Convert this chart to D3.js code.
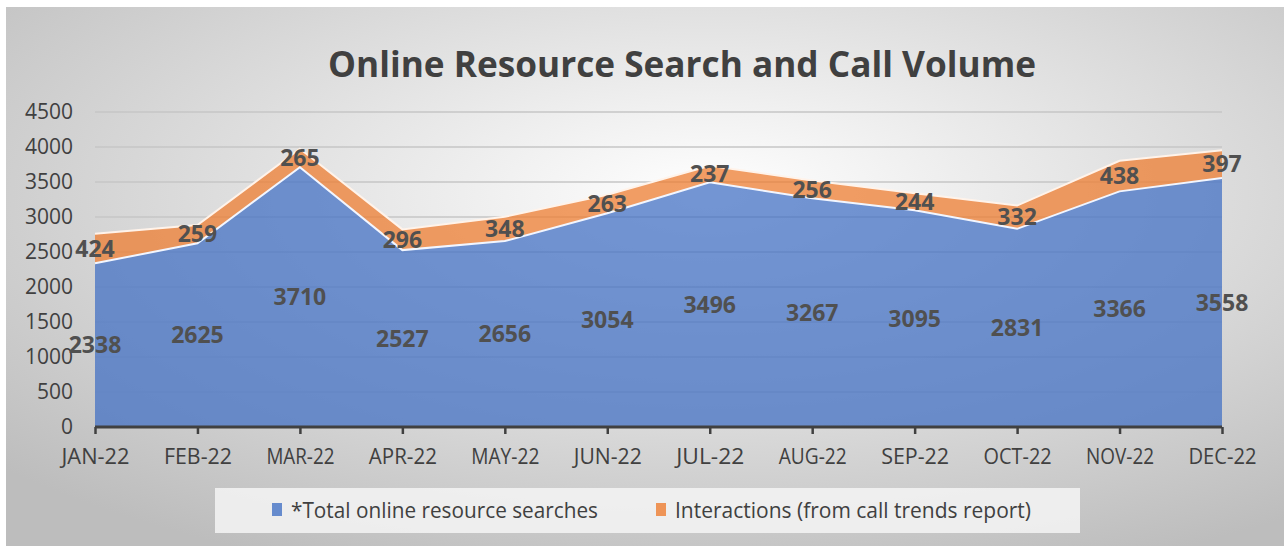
<!DOCTYPE html>
<html>
<head>
<meta charset="utf-8">
<script src="https://cdn.jsdelivr.net/npm/d3@7"></script>
<style>
  body { margin: 0; background: #fff; }
  svg { display: block; font-family: "Open Sans", sans-serif; }
</style>
</head>
<body>
<div id="chart"></div>
<script>
// data
var months = ["JAN-22", "FEB-22", "MAR-22", "APR-22", "MAY-22", "JUN-22",
  "JUL-22", "AUG-22", "SEP-22", "OCT-22", "NOV-22", "DEC-22"];
var searches = [2338, 2625, 3710, 2527, 2656, 3054, 3496, 3267, 3095, 2831, 3366, 3558];
var interactions = [424, 259, 265, 296, 348, 263, 237, 256, 244, 332, 438, 397];
var yTicks = [0, 500, 1000, 1500, 2000, 2500, 3000, 3500, 4000, 4500];
var seriesNames = ["*Total online resource searches", "Interactions (from call trends report)"];

// styles
var width = 1284, height = 546;
var blue = "#4472C4", orange = "#ED7D31";
var textColor = "#404040", labelColor = "#505050";

var svg = d3.select("#chart").append("svg")
  .attr("width", width)
  .attr("height", height);

var defs = svg.append("defs");
var grad = defs.append("radialGradient")
  .attr("id", "bg")
  .attr("cx", "55%").attr("cy", "35%").attr("r", "75%");
grad.append("stop").attr("offset", "0%").attr("stop-color", "#ffffff");
grad.append("stop").attr("offset", "100%").attr("stop-color", "#bdbdbd");

svg.append("rect")
  .attr("x", 6).attr("y", 7)
  .attr("width", width - 6).attr("height", height - 7)
  .attr("fill", "url(#bg)");

var x = d3.scalePoint().domain(months).range([95, 1222]);
var y = d3.scaleLinear().domain([0, 4500]).range([427, 112]);

// gridlines
svg.append("g").selectAll("line")
  .data(yTicks.slice(1))
  .join("line")
  .attr("x1", 95).attr("x2", 1222)
  .attr("y1", function (d) { return y(d); })
  .attr("y2", function (d) { return y(d); })
  .attr("stroke", "#c6c6c6")
  .attr("stroke-width", 1.5);

var rows = months.map(function (m, i) {
  return { m: m, a: searches[i], b: interactions[i] };
});

var areaBlue = d3.area()
  .x(function (d) { return x(d.m); })
  .y0(y(0))
  .y1(function (d) { return y(d.a); });
var areaOrange = d3.area()
  .x(function (d) { return x(d.m); })
  .y0(function (d) { return y(d.a); })
  .y1(function (d) { return y(d.a + d.b); });

svg.append("path").datum(rows)
  .attr("d", areaOrange)
  .attr("fill", orange).attr("fill-opacity", 0.75);
svg.append("path").datum(rows)
  .attr("d", areaBlue)
  .attr("fill", blue).attr("fill-opacity", 0.75);

// soft white edges on top
svg.append("path").datum(rows)
  .attr("d", d3.line().x(function (d) { return x(d.m); }).y(function (d) { return y(d.a + d.b); }))
  .attr("fill", "none").attr("stroke", "#fff3ea").attr("stroke-width", 2);
svg.append("path").datum(rows)
  .attr("d", d3.line().x(function (d) { return x(d.m); }).y(function (d) { return y(d.a); }))
  .attr("fill", "none").attr("stroke", "#f2f6ff").attr("stroke-width", 2);

// x axis
var xAxis = svg.append("g")
  .attr("transform", "translate(0," + y(0) + ")")
  .call(d3.axisBottom(x).tickSize(7).tickPadding(15));
xAxis.select(".domain").attr("stroke", "#404040").attr("stroke-width", 3)
  .attr("d", "M95,0H1222");
xAxis.selectAll(".tick line").attr("stroke", "#404040").attr("stroke-width", 2.5);
xAxis.selectAll("text")
  .attr("fill", textColor)
  .style("font-size", "21px")
  .style("font-family", "Open Sans")
  .attr("textLength", 68)
  .attr("lengthAdjust", "spacingAndGlyphs");

// y axis labels
var yAxis = svg.append("g")
  .attr("transform", "translate(95,0)")
  .call(d3.axisLeft(y).tickValues(yTicks).tickFormat(d3.format("d")).tickSize(0).tickPadding(22));
yAxis.select(".domain").remove();
yAxis.selectAll("text")
  .attr("fill", textColor)
  .style("font-size", "21px")
  .style("font-family", "Open Sans");

// data labels
svg.append("g").selectAll("text")
  .data(rows)
  .join("text")
  .attr("x", function (d) { return x(d.m); })
  .attr("y", function (d) { return y(d.a / 2); })
  .attr("dy", "0.36em")
  .attr("text-anchor", "middle")
  .attr("fill", labelColor)
  .attr("font-weight", "bold")
  .style("font-size", "23px")
  .text(function (d) { return d.a; });

svg.append("g").selectAll("text")
  .data(rows)
  .join("text")
  .attr("x", function (d) { return x(d.m); })
  .attr("y", function (d) { return y(d.a + d.b / 2); })
  .attr("dy", "0.36em")
  .attr("text-anchor", "middle")
  .attr("fill", labelColor)
  .attr("font-weight", "bold")
  .style("font-size", "23px")
  .text(function (d) { return d.b; });

// title
svg.append("text")
  .attr("x", 682).attr("y", 77)
  .attr("text-anchor", "middle")
  .attr("fill", textColor)
  .attr("font-weight", "bold")
  .style("font-size", "36px")
  .attr("textLength", 708)
  .attr("lengthAdjust", "spacingAndGlyphs")
  .text("Online Resource Search and Call Volume");

// legend
svg.append("rect")
  .attr("x", 215).attr("y", 488)
  .attr("width", 865).attr("height", 45)
  .attr("fill", "#f4f4f4").attr("fill-opacity", 0.85);

var legendX = [272, 656], legendW = [307, 356];
var legendColors = [blue, orange];
var lg = svg.append("g").selectAll("g")
  .data(seriesNames)
  .join("g")
  .attr("transform", function (d, i) { return "translate(" + legendX[i] + ",0)"; });
lg.append("rect")
  .attr("x", 0).attr("y", 503)
  .attr("width", 10).attr("height", 13)
  .attr("fill", function (d, i) { return legendColors[i]; })
  .attr("fill-opacity", 0.8);
lg.append("text")
  .attr("x", 19).attr("y", 518)
  .attr("fill", textColor)
  .style("font-size", "21px")
  .attr("textLength", function (d, i) { return legendW[i]; })
  .attr("lengthAdjust", "spacingAndGlyphs")
  .text(function (d) { return d; });
</script>
</body>
</html>
